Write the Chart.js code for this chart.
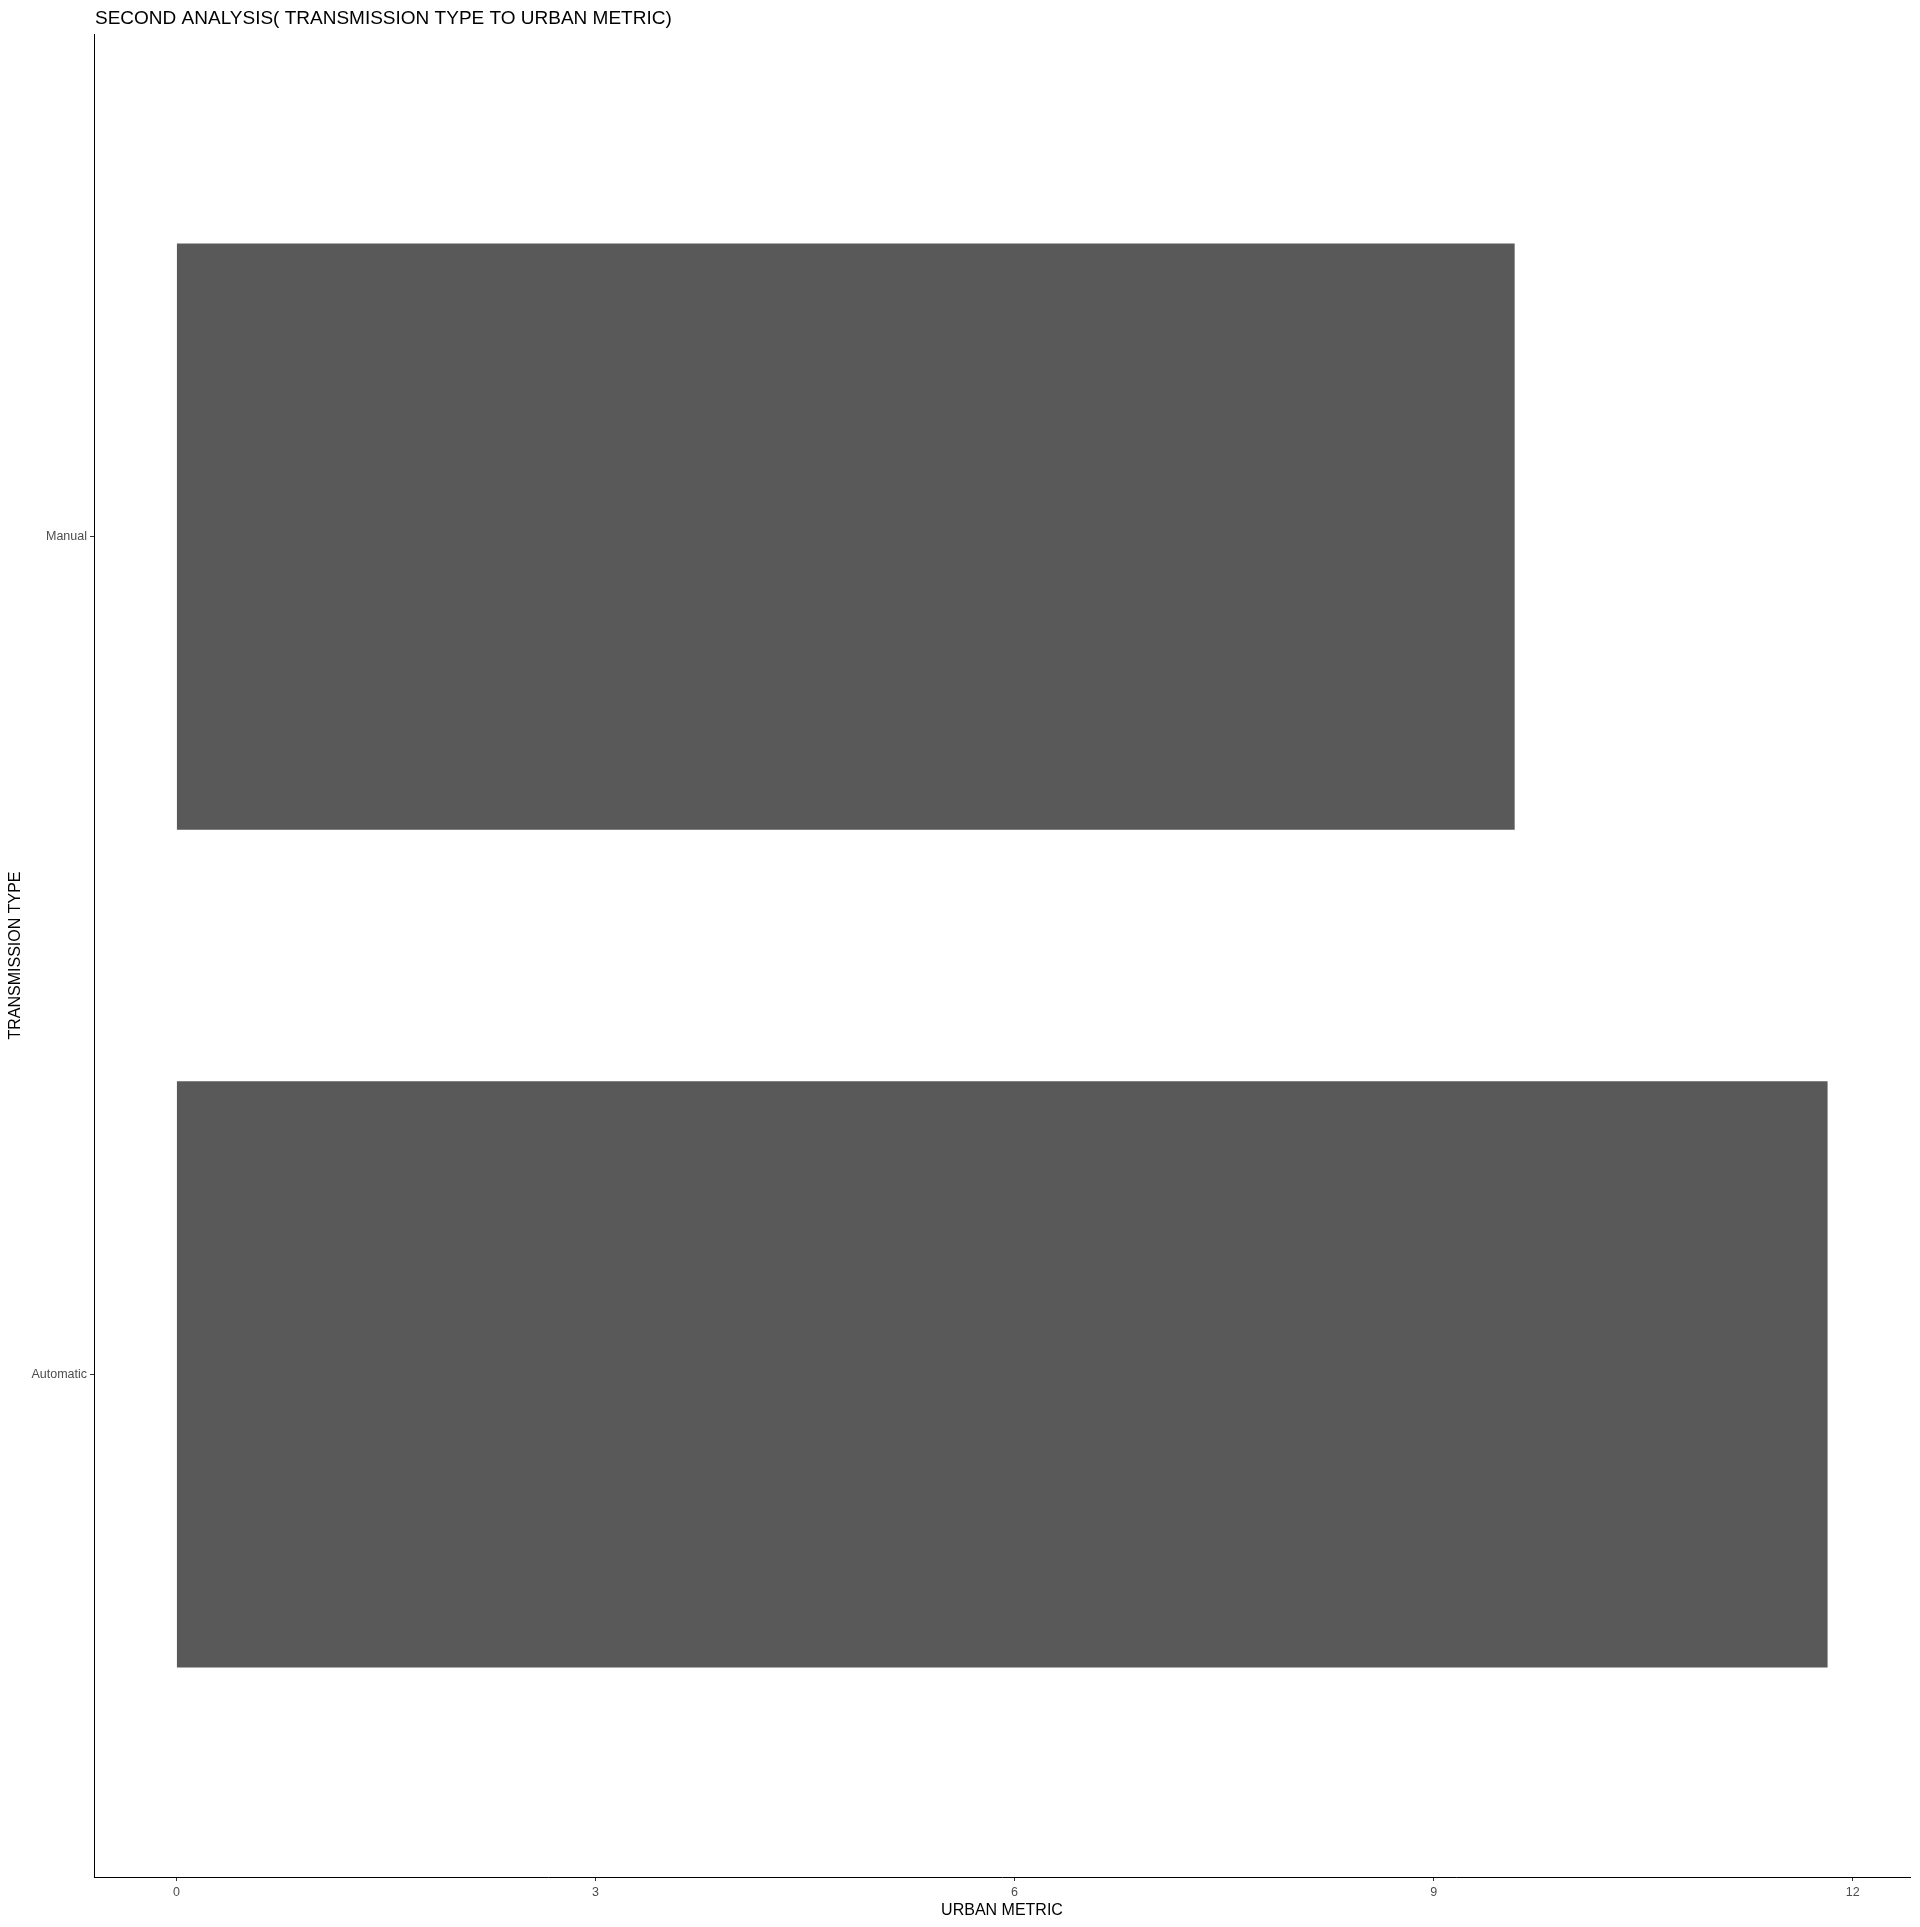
<!DOCTYPE html>
<html>
<head>
<meta charset="utf-8">
<script src="https://cdn.jsdelivr.net/npm/chart.js@4/dist/chart.umd.min.js"></script>
<style>
  html, body { margin: 0; padding: 0; background: #ffffff; }
  #wrap { width: 1920px; height: 1927px; position: relative; }
</style>
</head>
<body>
<div id="wrap"><canvas id="c" width="1920" height="1927"></canvas></div>
<script>
// ---- data ----
const categories = ["Automatic", "Manual"];       // bottom to top
const urbanMetric = [11.82, 9.58];
const xTicks = [0, 3, 6, 9, 12];
const chartTitle = "SECOND ANALYSIS( TRANSMISSION TYPE TO URBAN METRIC)";
const xTitle = "URBAN METRIC";
const yTitle = "TRANSMISSION TYPE";

const FONT = "'Liberation Sans', Arial, sans-serif";

const points = categories.map((c, i) => ({ x: urbanMetric[i], y: i + 1 }));

const titlePlugin = {
  id: 'plotTitle',
  afterDraw(chart) {
    const ctx = chart.ctx;
    ctx.save();
    ctx.font = "19px " + FONT;
    ctx.fillStyle = "#000000";
    ctx.textAlign = "left";
    ctx.textBaseline = "alphabetic";
    ctx.fillText(chartTitle, chart.chartArea.left + 1, 23.5);
    ctx.restore();
  }
};

new Chart(document.getElementById('c'), {
  type: 'bar',
  data: {
    datasets: [{
      data: points,
      backgroundColor: '#595959',
      borderWidth: 0,
      categoryPercentage: 1.0,
      barPercentage: 0.7
    }]
  },
  options: {
    indexAxis: 'y',
    responsive: false,
    animation: false,
    devicePixelRatio: 1,
    layout: { padding: { top: 34, right: 10, left: 0, bottom: 0 } },
    plugins: {
      legend: { display: false },
      tooltip: { enabled: false },
      title: { display: false }
    },
    scales: {
      x: {
        type: 'linear',
        position: 'bottom',
        min: -0.59,
        max: 12.41,
        offset: false,
        afterBuildTicks: (s) => { s.ticks = xTicks.map(v => ({ value: v })); },
        afterFit: (s) => { s.height = 50; },
        grid: {
          offset: false,
          drawOnChartArea: false,
          drawTicks: true,
          tickLength: 4,
          tickColor: '#333333',
          tickWidth: 1
        },
        border: { display: true, color: '#000000', width: 1 },
        ticks: {
          color: '#4d4d4d',
          font: { family: FONT, size: 12.5 },
          padding: 4,
          maxRotation: 0,
          autoSkip: false
        },
        title: {
          display: true,
          text: xTitle,
          color: '#000000',
          font: { family: FONT, size: 16 },
          padding: { top: 0, bottom: 7 }
        }
      },
      y: {
        type: 'linear',
        position: 'left',
        min: 0.4,
        max: 2.6,
        offset: false,
        afterBuildTicks: (s) => { s.ticks = categories.map((c, i) => ({ value: i + 1 })); },
        afterFit: (s) => { s.width = 94; },
        grid: {
          offset: false,
          drawOnChartArea: false,
          drawTicks: true,
          tickLength: 4,
          tickColor: '#333333',
          tickWidth: 1
        },
        border: { display: true, color: '#000000', width: 1 },
        ticks: {
          color: '#4d4d4d',
          font: { family: FONT, size: 12.5 },
          padding: 3,
          autoSkip: false,
          callback: (v) => categories[Math.round(v) - 1] || ''
        },
        title: {
          display: true,
          text: yTitle,
          color: '#000000',
          font: { family: FONT, size: 16 },
          padding: { top: 6, bottom: 0 }
        }
      }
    }
  },
  plugins: [titlePlugin]
});
</script>
</body>
</html>
